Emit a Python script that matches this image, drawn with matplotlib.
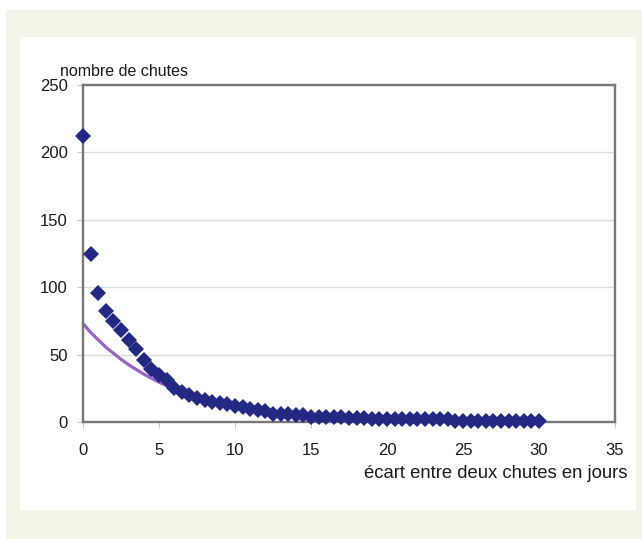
import numpy as np
import matplotlib.pyplot as plt
from matplotlib.patches import Rectangle

# écart entre deux chutes (jours), pas d'une demi-journée
ecart = np.arange(0, 30.5, 0.5)
nb_chutes = [212, 125, 96, 82, 75, 68, 61, 54, 46, 39,
             35, 31, 25, 22, 20, 18, 16, 15, 14, 13,
             12, 11, 10, 9, 8, 6, 6, 6, 5, 5,
             4, 4, 4, 4, 4, 3, 3, 3, 2, 2,
             2, 2, 2, 2, 2, 2, 2, 2, 2, 1,
             1, 1, 1, 1, 1, 1, 1, 1, 1, 1,
             1]

# ajustement exponentiel
fit_x = [0, 0.5, 1, 1.5, 2, 2.5, 3, 3.5, 4, 4.5, 5, 5.5, 6]
fit_y = [73, 66.5, 61, 55.5, 51, 46.5, 42.5, 39, 35.5, 32.5, 29.5, 27, 25]

plt.rcParams['font.family'] = ['Liberation Sans', 'DejaVu Sans']

fig = plt.figure(figsize=(6.42, 5.39), dpi=100, facecolor='white')
W, H = 642, 539
fig.patches.append(Rectangle((6 / W, 0), 1, (H - 10) / H, transform=fig.transFigure,
                             facecolor='#f2f5e8', edgecolor='none', zorder=-2))
fig.patches.append(Rectangle((20 / W, 1 - 510 / H), 616 / W, 473 / H, transform=fig.transFigure,
                             facecolor='white', edgecolor='none', zorder=-1))

ax = fig.add_axes([83 / W, 1 - 422 / H, (615 - 83) / W, (422 - 85) / H])
ax.set_facecolor('white')

ax.plot(fit_x, fit_y, color='#9a62c2', linewidth=2.3, zorder=2)
ax.plot(ecart, nb_chutes, linestyle='none', marker='D', markersize=8,
        color='#232882', markeredgewidth=0, zorder=3, clip_on=False)

ax.set_xlim(0, 35)
ax.set_ylim(0, 250)
ax.set_xticks(range(0, 36, 5))
ax.set_yticks(range(0, 251, 50))
ax.yaxis.grid(True, color='#dcdcdc', linewidth=1)
ax.set_axisbelow(True)

for s in ax.spines.values():
    s.set_color('#777777')
    s.set_linewidth(1.7)

ax.tick_params(axis='both', colors='#c8c8c8', length=4, width=0.8,
               labelsize=12, labelcolor='#1a1a1a')
ax.tick_params(axis='x', pad=11)
ax.tick_params(axis='y', pad=7)

fig.text(60 / W, 1 - 76 / H, 'nombre de chutes', fontsize=11.5, color='#1a1a1a',
         ha='left', va='baseline')
fig.text(627 / W, 1 - 478 / H, 'écart entre deux chutes en jours', fontsize=13.3,
         color='#1a1a1a', ha='right', va='baseline')

fig.savefig('out.png', dpi=100, facecolor=fig.get_facecolor())
